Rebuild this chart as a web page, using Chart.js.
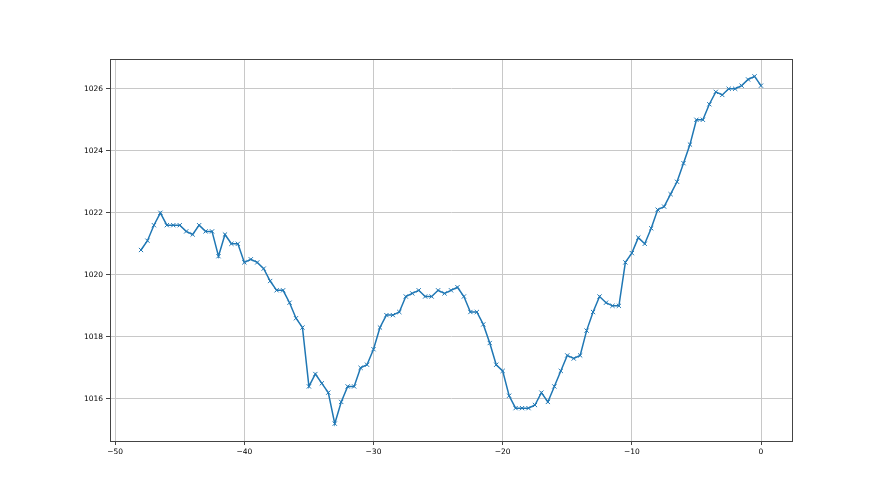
<!DOCTYPE html>
<html lang="en">
<head>
<meta charset="UTF-8">
<title>Line chart</title>
<script src="https://cdn.jsdelivr.net/npm/chart.js"></script>
<style>
  html, body { margin: 0; padding: 0; background: #ffffff; }
  #wrap { width: 880px; height: 495px; }
</style>
</head>
<body>
<div id="wrap"><canvas id="chart" width="880" height="495"></canvas></div>
<script>
// x positions (half-unit steps) and measured values
const xValues = [
  -48, -47.5, -47, -46.5, -46, -45.5, -45, -44.5, -44, -43.5,
  -43, -42.5, -42, -41.5, -41, -40.5, -40, -39.5, -39, -38.5,
  -38, -37.5, -37, -36.5, -36, -35.5, -35, -34.5, -34, -33.5,
  -33, -32.5, -32, -31.5, -31, -30.5, -30, -29.5, -29, -28.5,
  -28, -27.5, -27, -26.5, -26, -25.5, -25, -24.5, -24, -23.5,
  -23, -22.5, -22, -21.5, -21, -20.5, -20, -19.5, -19, -18.5,
  -18, -17.5, -17, -16.5, -16, -15.5, -15, -14.5, -14, -13.5,
  -13, -12.5, -12, -11.5, -11, -10.5, -10, -9.5, -9, -8.5,
  -8, -7.5, -7, -6.5, -6, -5.5, -5, -4.5, -4, -3.5,
  -3, -2.5, -2, -1.5, -1, -0.5, 0
];
const yValues = [
  1020.8, 1021.1, 1021.6, 1022.0, 1021.6, 1021.6, 1021.6, 1021.4, 1021.3, 1021.6,
  1021.4, 1021.4, 1020.6, 1021.3, 1021.0, 1021.0, 1020.4, 1020.5, 1020.4, 1020.2,
  1019.8, 1019.5, 1019.5, 1019.1, 1018.6, 1018.3, 1016.4, 1016.8, 1016.5, 1016.2,
  1015.2, 1015.9, 1016.4, 1016.4, 1017.0, 1017.1, 1017.6, 1018.3, 1018.7, 1018.7,
  1018.8, 1019.3, 1019.4, 1019.5, 1019.3, 1019.3, 1019.5, 1019.4, 1019.5, 1019.6,
  1019.3, 1018.8, 1018.8, 1018.4, 1017.8, 1017.1, 1016.9, 1016.1, 1015.7, 1015.7,
  1015.7, 1015.8, 1016.2, 1015.9, 1016.4, 1016.9, 1017.4, 1017.3, 1017.4, 1018.2,
  1018.8, 1019.3, 1019.1, 1019.0, 1019.0, 1020.4, 1020.7, 1021.2, 1021.0, 1021.5,
  1022.1, 1022.2, 1022.6, 1023.0, 1023.6, 1024.2, 1025.0, 1025.0, 1025.5, 1025.9,
  1025.8, 1026.0, 1026.0, 1026.1, 1026.3, 1026.4, 1026.1
];
const xTicks = [-50, -40, -30, -20, -10, 0];
const yTicks = [1016, 1018, 1020, 1022, 1024, 1026];

const points = xValues.map((x, i) => ({ x: x, y: yValues[i] }));

// dark frame round the plot area, like matplotlib spines
const frame = {
  id: 'frame',
  afterDraw(chart) {
    const a = chart.chartArea, ctx = chart.ctx;
    ctx.save();
    ctx.strokeStyle = '#444444';
    ctx.lineWidth = 1;
    ctx.strokeRect(Math.round(a.left) + 0.5, Math.round(a.top) + 0.5,
                   Math.round(a.right - a.left), Math.round(a.bottom - a.top));
    ctx.restore();
  }
};

const minus = v => String(v).replace('-', '\u2212');

new Chart(document.getElementById('chart'), {
  type: 'line',
  data: {
    datasets: [{
      data: points,
      borderColor: '#1f77b4',
      borderWidth: 1.5,
      tension: 0,
      pointStyle: 'crossRot',
      pointRadius: 3,
      pointBorderWidth: 1,
      pointBorderColor: '#1f77b4',
      pointHoverRadius: 3
    }]
  },
  options: {
    responsive: false,
    animation: false,
    layout: { padding: { top: 59, right: 88, left: 0, bottom: 0 } },
    plugins: { legend: { display: false }, tooltip: { enabled: false } },
    scales: {
      x: {
        type: 'linear',
        min: -50.4,
        max: 2.4,
        afterFit(scale) { scale.height = 54; },
        afterBuildTicks(scale) { scale.ticks = xTicks.map(v => ({ value: v })); },
        ticks: {
          color: '#000000',
          font: { family: 'DejaVu Sans', size: 7.5 },
          padding: 3,
          maxRotation: 0,
          callback: v => minus(v)
        },
        grid: { color: '#c8c8c8', lineWidth: 1, tickColor: '#444444', tickLength: 4 },
        border: { color: '#444444' }
      },
      y: {
        type: 'linear',
        min: 1014.64,
        max: 1026.96,
        afterFit(scale) { scale.width = 110; },
        afterBuildTicks(scale) { scale.ticks = yTicks.map(v => ({ value: v })); },
        ticks: {
          color: '#000000',
          font: { family: 'DejaVu Sans', size: 7.5 },
          padding: 3,
          callback: v => minus(v)
        },
        grid: { color: '#c8c8c8', lineWidth: 1, tickColor: '#444444', tickLength: 4 },
        border: { color: '#444444' }
      }
    }
  },
  plugins: [frame]
});
</script>
</body>
</html>
